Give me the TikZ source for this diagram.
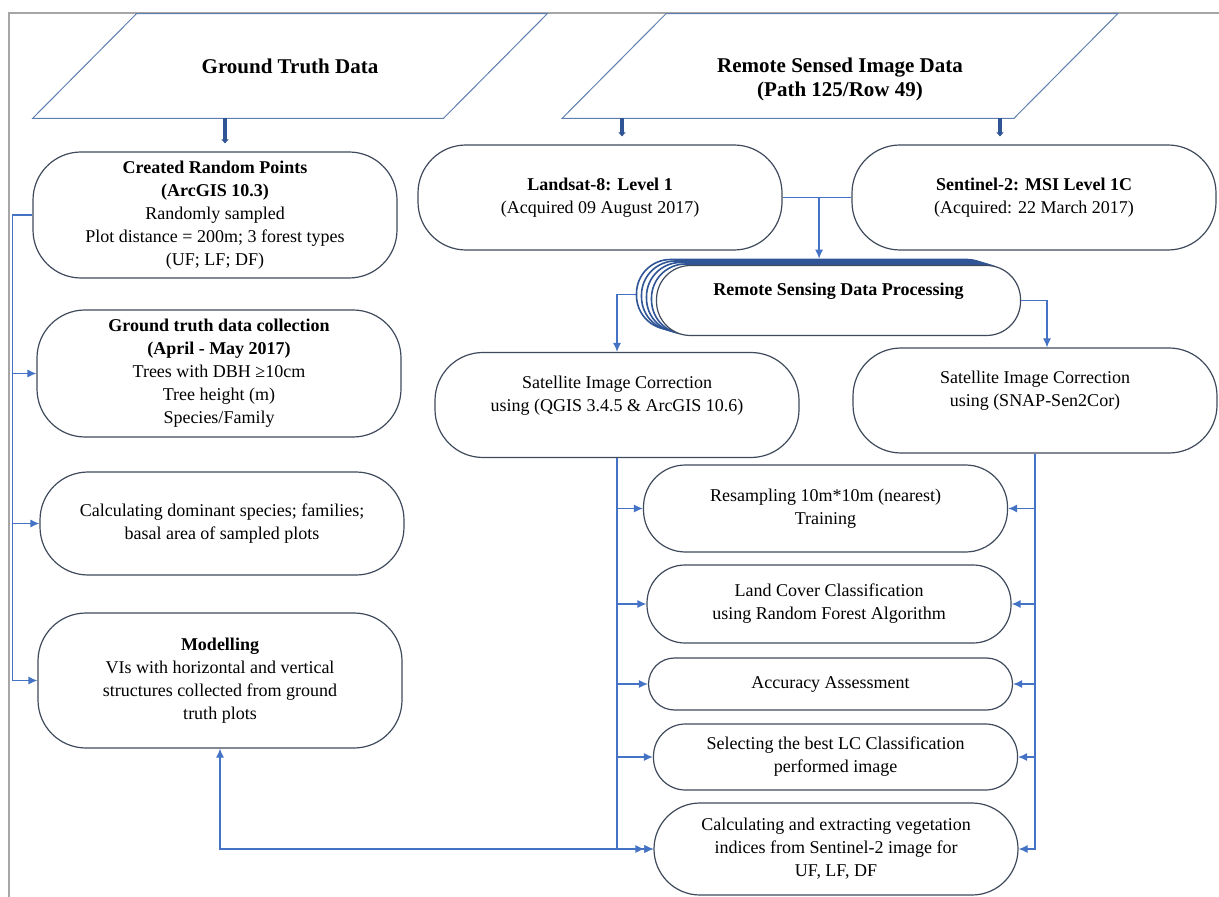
\documentclass[tikz,border=0pt]{standalone}
\usepackage{fontspec}
\setmainfont{Liberation Serif}
\usetikzlibrary{arrows.meta, calc}

\definecolor{boxline}{HTML}{3F4A5C}
\definecolor{linkblue}{HTML}{4472C4}
\definecolor{fatblue}{HTML}{2F5597}
\definecolor{framegray}{HTML}{A6A6A6}
\definecolor{iodata}{HTML}{5E7FAF}

\begin{document}
\begin{tikzpicture}[x=0.5pt, y=-0.5pt]
    \tikzstyle{io_data}    = [shape = rectangle, inner sep = 0pt, minimum height = 52pt, align = center, font = \fontsize{10.5}{12}\selectfont\bfseries]
    \tikzstyle{io_line}    = [draw = iodata, line width = 0.5pt]
    \tikzstyle{flow_box}   = [shape = rectangle, draw = boxline, line width = 0.6pt, fill = white, rounded corners = 24pt, minimum width = 182pt, minimum height = 52.5pt, inner sep = 0pt, align = center, font = \fontsize{9}{11.5}\selectfont]
    \tikzstyle{stack_box}  = [flow_box, draw = fatblue, line width = 0.8pt, rounded corners = 17pt, minimum height = 35pt]
    \tikzstyle{link}       = [draw = linkblue, line width = 0.6pt]
    \tikzstyle{link_arrow} = [link, -{Latex[length=4.5pt, width=4pt]}]
    \tikzstyle{link_both}  = [link, {Latex[length=4.5pt, width=4pt]}-{Latex[length=4.5pt, width=4pt] Latex[length=4.5pt, width=4pt]}]
    \tikzstyle{fat_arrow}  = [draw = fatblue, line width = 2pt, shorten >= 4pt, -{Triangle[length=2pt, width=3.5pt]}]
    \tikzstyle{frame_line} = [draw = framegray, line width = 0.8pt]

    \useasboundingbox (0, 0) rectangle (1219, 897);
    \draw[frame_line] (1219, 13) -- (9, 13) -- (9, 897);

    % input data
    \node[io_data, minimum width = 205pt] at (290, 66) (gt_data) {Ground Truth Data};
    \draw[io_line] ([xshift=26pt]gt_data.north west) -- ([xshift=26pt]gt_data.north east)
      -- ([xshift=-26pt]gt_data.south east) -- ([xshift=-26pt]gt_data.south west) -- cycle;

    \node[io_data, minimum width = 225.5pt] at (840, 66) (rs_data) {\strut\\Remote Sensed Image Data\\(Path 125/Row 49)};
    \draw[io_line] ([xshift=26pt]rs_data.north west) -- ([xshift=26pt]rs_data.north east)
      -- ([xshift=-26pt]rs_data.south east) -- ([xshift=-26pt]rs_data.south west) -- cycle;

    % ground truth side
    \node[flow_box, minimum height = 63pt] at (215, 215) (crp) {\textbf{Created Random Points}\\\textbf{(ArcGIS 10.3)}\\Randomly sampled\\Plot distance = 200m; 3 forest types\\(UF; LF; DF)};
    \node[flow_box, minimum height = 63.5pt] at (219, 373.5) (gtc) {\textbf{Ground truth data collection}\\\textbf{(April - May 2017)}\\Trees with DBH ≥10cm\\Tree height (m)\\Species/Family};
    \node[flow_box, minimum height = 51.5pt] at (222, 523.5) (cds) {Calculating dominant species; families;\\basal area of sampled plots};
    \node[flow_box, minimum height = 67.5pt] at (220, 680.5) (mdl) {\textbf{Modelling}\\VIs with horizontal and vertical\\structures collected from ground\\truth plots};

    % remote sensing side
    \node[flow_box] at (600, 197.5) (ls8) {\textbf{Landsat-8: Level 1}\\(Acquired 09 August 2017)};
    \node[flow_box] at (1034, 197.5) (s2) {\textbf{Sentinel-2: MSI Level 1C}\\(Acquired: 22 March 2017)};

    \foreach \i in {4,3,2,1}
      \node[stack_box] at ($(838.5, 300.5)+(-5*\i, -1.5*\i)$) (rsp_c\i) {};
    \node[flow_box, rounded corners = 17pt, minimum height = 35pt] at (838.5, 300.5) (rsp) {\textbf{Remote Sensing Data Processing}\\\mbox{}};

    \node[flow_box] at (617, 405) (qgis) {Satellite Image Correction\\using (QGIS 3.4.5 \& ArcGIS 10.6)\\\mbox{}};
    \node[flow_box] at (1035, 400.5) (snap) {Satellite Image Correction\\using (SNAP-Sen2Cor)\\\mbox{}};

    \node[flow_box, minimum height = 43.5pt, rounded corners = 21pt] at (825.5, 508.5) (rsm) {Resampling 10m*10m (nearest)\\Training};
    \node[flow_box, minimum height = 39pt, rounded corners = 19pt] at (829, 604) (lcc) {Land Cover Classification\\using Random Forest Algorithm};
    \node[flow_box, minimum height = 26pt, rounded corners = 13pt] at (830.5, 684) (acc) {Accuracy Assessment};
    \node[flow_box, minimum height = 33pt, rounded corners = 16pt] at (835.5, 757) (sel) {Selecting the best LC Classification\\performed image};
    \node[flow_box, minimum height = 46pt, rounded corners = 23pt] at (836, 849) (cve) {Calculating and extracting vegetation\\indices from Sentinel-2 image for\\UF, LF, DF};

    % connectors
    \draw[fat_arrow] ([xshift=5pt]crp.north |- gt_data.south) -- ([xshift=5pt]crp.north);
    \draw[fat_arrow] ([xshift=11pt]ls8.north |- rs_data.south) -- ([xshift=11pt]ls8.north);
    \draw[fat_arrow] ([xshift=-17pt]s2.north |- rs_data.south) -- ([xshift=-17pt]s2.north);

    \draw[link] (ls8.east) -- (s2.west);
    \coordinate (split) at ($(ls8.east)!0.53!(s2.west)$);
    \draw[link_arrow] (split) -- (split |- rsp_c4.north);
    \draw[link_arrow] (rsp_c4.west) -| (qgis.north);
    \draw[link_arrow] (rsp.east) -| ([xshift=6pt]snap.north);

    \coordinate (gt_bus) at ([xshift=-10pt]crp.west);
    \draw[link] (crp.west) -- (gt_bus);
    \draw[link_arrow] (gt_bus) |- (gtc.west);
    \draw[link_arrow] (gt_bus) |- (cds.west);
    \draw[link_arrow] (gt_bus) |- (mdl.west);

    \draw[link_arrow] (qgis.south) |- (rsm.west);
    \draw[link_arrow] (qgis.south) |- (lcc.west);
    \draw[link_arrow] (qgis.south) |- (acc.west);
    \draw[link_arrow] (qgis.south) |- (sel.west);
    \draw[link_arrow] (qgis.south) |- (cve.west);

    \draw[link_arrow] (snap.south) |- (rsm.east);
    \draw[link_arrow] (snap.south) |- (lcc.east);
    \draw[link_arrow] (snap.south) |- (acc.east);
    \draw[link_arrow] (snap.south) |- (sel.east);
    \draw[link_arrow] (snap.south) |- (cve.east);

    \draw[link_both] (mdl.south) |- (cve.west);
\end{tikzpicture}
\end{document}
